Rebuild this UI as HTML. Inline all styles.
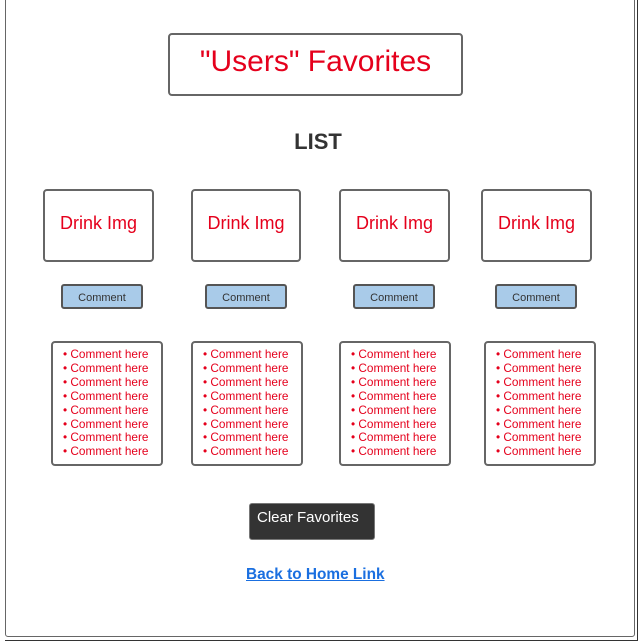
<!DOCTYPE html>
<html><head><style>
body{margin:0;width:639px;height:643px;background:#fff;position:relative;overflow:hidden;font-family:"Liberation Sans",sans-serif}
div{position:absolute;box-sizing:border-box}
.b{border:2px solid #666;border-radius:4px;background:#fff}
.d{color:#e5001c;font-size:18px;display:flex;align-items:center;justify-content:center;padding-bottom:4px}
.c{background:#a9cbe9;border:2px solid #555;border-radius:3px;font-size:11px;color:#333;display:flex;align-items:center;justify-content:center;padding-top:3px}
.l{color:#e5001c;font-size:11.8px;line-height:13.9px;padding:5px 0 0 10px}
</style></head><body>
<div style="left:5px;top:-5px;width:630px;height:642px;border:1.5px solid #666;border-radius:3px"></div>
<div style="left:5px;top:-5px;width:633px;height:646px;border-right:1.5px solid #333;border-bottom:1.5px solid #333"></div>
<div class="b d" style="left:168px;top:33px;width:295px;height:63px;font-size:30px;padding-bottom:6px">"Users" Favorites</div>
<div style="left:218px;top:129px;width:200px;text-align:center;font-weight:bold;font-size:22px;color:#333">LIST</div>
<div class="b d" style="left:43px;top:189px;width:111px;height:73px">Drink Img</div>
<div class="b d" style="left:191px;top:189px;width:110px;height:73px">Drink Img</div>
<div class="b d" style="left:339px;top:189px;width:111px;height:73px">Drink Img</div>
<div class="b d" style="left:481px;top:189px;width:111px;height:73px">Drink Img</div>
<div class="c" style="left:61px;top:284px;width:82px;height:25px">Comment</div>
<div class="c" style="left:205px;top:284px;width:82px;height:25px">Comment</div>
<div class="c" style="left:353px;top:284px;width:82px;height:25px">Comment</div>
<div class="c" style="left:495px;top:284px;width:82px;height:25px">Comment</div>
<div class="b l" style="left:51px;top:341px;width:112px;height:125px">• Comment here<br>• Comment here<br>• Comment here<br>• Comment here<br>• Comment here<br>• Comment here<br>• Comment here<br>• Comment here</div>
<div class="b l" style="left:191px;top:341px;width:112px;height:125px">• Comment here<br>• Comment here<br>• Comment here<br>• Comment here<br>• Comment here<br>• Comment here<br>• Comment here<br>• Comment here</div>
<div class="b l" style="left:339px;top:341px;width:112px;height:125px">• Comment here<br>• Comment here<br>• Comment here<br>• Comment here<br>• Comment here<br>• Comment here<br>• Comment here<br>• Comment here</div>
<div class="b l" style="left:484px;top:341px;width:112px;height:125px">• Comment here<br>• Comment here<br>• Comment here<br>• Comment here<br>• Comment here<br>• Comment here<br>• Comment here<br>• Comment here</div>
<div style="left:249px;top:503px;width:126px;height:37px;background:#333;border:1.5px solid #777;border-radius:3px;color:#fff;font-size:15px;padding:5px 0 0 7px">Clear Favorites</div>
<div style="left:246px;top:566px;font-weight:bold;font-size:15.4px;color:#1a6fe0;text-decoration:underline">Back to Home Link</div>
</body></html>
